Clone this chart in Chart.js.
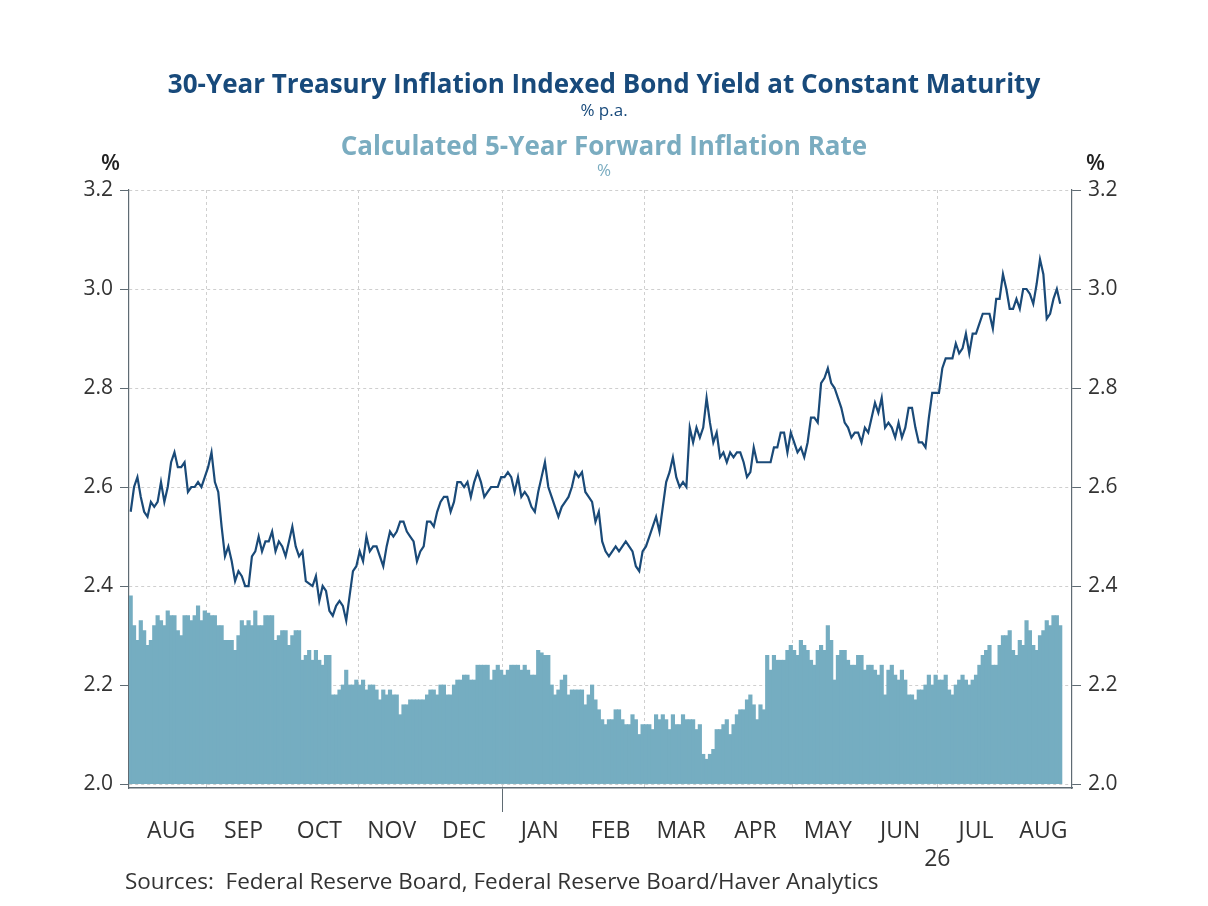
<!DOCTYPE html>
<html>
<head>
<meta charset="utf-8">
<script src="https://cdn.jsdelivr.net/npm/chart.js@4.4.1/dist/chart.umd.min.js"></script>
<style>
    html, body { margin: 0; padding: 0; background: #fff; }
    #wrap { position: relative; width: 1208px; height: 906px; overflow: hidden; font-family: "Open Sans", sans-serif; }
    #chart { position: absolute; left: 0; top: 0; }
    .txt { position: absolute; white-space: pre; line-height: 1; }
    .center { left: 0; width: 1208px; text-align: center; }
    .t1 { top: 70px; font-size: 26px; font-weight: 700; color: #184a7b; }
    .s1 { top: 101px; font-size: 17px; color: #184a7b; }
    .t2 { top: 132px; font-size: 26px; font-weight: 700; color: #7aacc0; }
    .s2 { top: 161px; font-size: 17px; color: #7aacc0; }
    .unit { top: 150px; font-size: 22px; font-weight: 600; color: #222; }
    .src { left: 125px; top: 870px; font-size: 22.5px; color: #333; }
</style>
</head>
<body>
<div id="wrap">
    <canvas id="chart" width="1208" height="906"></canvas>
    <div class="txt center t1">30-Year Treasury Inflation Indexed Bond Yield at Constant Maturity</div>
    <div class="txt center s1">% p.a.</div>
    <div class="txt center t2">Calculated 5-Year Forward Inflation Rate</div>
    <div class="txt center s2">%</div>
    <div class="txt unit" style="left:101px">%</div>
    <div class="txt unit" style="left:1086px">%</div>
    <div class="txt src">Sources:  Federal Reserve Board, Federal Reserve Board/Haver Analytics</div>
</div>
<script>
// Business days per month, Jul 2025 - Aug 2026
const monthNames = ['JUL', 'AUG', 'SEP', 'OCT', 'NOV', 'DEC', 'JAN', 'FEB', 'MAR', 'APR', 'MAY', 'JUN', 'JUL', 'AUG'];
const monthNums  = [7, 8, 9, 10, 11, 12, 1, 2, 3, 4, 5, 6, 7, 8];
const monthDays  = [2, 21, 22, 23, 20, 23, 22, 20, 22, 22, 21, 22, 23, 14];
const yearLabel = '26';

// 30-Year TIPS yield, % p.a. (line)
const tipsYield = [
    2.55, 2.60, 2.62, 2.58, 2.55, 2.54, 2.57, 2.56, 2.57, 2.61,
    2.57, 2.60, 2.65, 2.67, 2.64, 2.64, 2.65, 2.59, 2.60, 2.60,
    2.61, 2.60, 2.62, 2.64, 2.67, 2.61, 2.59, 2.52, 2.46, 2.48,
    2.45, 2.41, 2.43, 2.42, 2.40, 2.40, 2.46, 2.47, 2.50, 2.47,
    2.49, 2.49, 2.51, 2.47, 2.49, 2.48, 2.46, 2.49, 2.52, 2.48,
    2.46, 2.47, 2.41, 2.405, 2.40, 2.42, 2.37, 2.40, 2.39, 2.35,
    2.34, 2.36, 2.37, 2.36, 2.33, 2.38, 2.43, 2.44, 2.47, 2.45,
    2.50, 2.47, 2.48, 2.48, 2.46, 2.44, 2.48, 2.51, 2.50, 2.51,
    2.53, 2.53, 2.51, 2.50, 2.49, 2.45, 2.47, 2.48, 2.53, 2.53,
    2.52, 2.55, 2.57, 2.58, 2.58, 2.55, 2.57, 2.61, 2.61, 2.60,
    2.61, 2.58, 2.61, 2.63, 2.61, 2.58, 2.59, 2.60, 2.60, 2.60,
    2.62, 2.62, 2.63, 2.62, 2.59, 2.62, 2.58, 2.59, 2.58, 2.56,
    2.55, 2.59, 2.62, 2.65, 2.60, 2.58, 2.56, 2.54, 2.56, 2.57,
    2.58, 2.60, 2.63, 2.62, 2.63, 2.59, 2.58, 2.57, 2.53, 2.55,
    2.49, 2.47, 2.46, 2.47, 2.48, 2.47, 2.48, 2.49, 2.48, 2.47,
    2.44, 2.43, 2.47, 2.48, 2.50, 2.52, 2.54, 2.51, 2.56, 2.61,
    2.63, 2.66, 2.62, 2.60, 2.61, 2.60, 2.72, 2.69, 2.72, 2.70,
    2.72, 2.78, 2.73, 2.69, 2.71, 2.66, 2.67, 2.65, 2.67, 2.66,
    2.67, 2.67, 2.65, 2.62, 2.63, 2.68, 2.65, 2.65, 2.65, 2.65,
    2.65, 2.68, 2.68, 2.71, 2.71, 2.67, 2.71, 2.69, 2.67, 2.68,
    2.66, 2.69, 2.74, 2.74, 2.73, 2.81, 2.82, 2.84, 2.81, 2.80,
    2.78, 2.76, 2.73, 2.72, 2.70, 2.71, 2.71, 2.69, 2.72, 2.71,
    2.74, 2.77, 2.75, 2.78, 2.72, 2.73, 2.72, 2.70, 2.73, 2.70,
    2.72, 2.76, 2.76, 2.72, 2.69, 2.69, 2.68, 2.74, 2.79, 2.79,
    2.79, 2.84, 2.86, 2.86, 2.86, 2.89, 2.87, 2.88, 2.91, 2.87,
    2.91, 2.91, 2.93, 2.95, 2.95, 2.95, 2.92, 2.98, 2.98, 3.03,
    3.00, 2.96, 2.96, 2.98, 2.96, 3.00, 3.00, 2.99, 2.97, 3.01,
    3.06, 3.03, 2.94, 2.95, 2.98, 3.00, 2.97
];

// Calculated 5-year forward inflation rate, % (bars)
const fwdInflation = [
    2.38, 2.32, 2.29, 2.33, 2.31, 2.28, 2.29, 2.32, 2.34, 2.33,
    2.32, 2.35, 2.34, 2.34, 2.31, 2.30, 2.34, 2.34, 2.33, 2.34,
    2.36, 2.33, 2.35, 2.345, 2.34, 2.34, 2.32, 2.32, 2.29, 2.29,
    2.29, 2.27, 2.30, 2.33, 2.32, 2.33, 2.32, 2.35, 2.32, 2.32,
    2.34, 2.34, 2.34, 2.29, 2.30, 2.31, 2.31, 2.28, 2.30, 2.31,
    2.31, 2.25, 2.26, 2.27, 2.25, 2.27, 2.25, 2.24, 2.26, 2.26,
    2.18, 2.18, 2.19, 2.20, 2.23, 2.20, 2.20, 2.21, 2.20, 2.21,
    2.19, 2.20, 2.20, 2.19, 2.17, 2.19, 2.18, 2.19, 2.18, 2.18,
    2.14, 2.16, 2.16, 2.17, 2.17, 2.17, 2.17, 2.17, 2.18, 2.19,
    2.19, 2.18, 2.20, 2.20, 2.18, 2.18, 2.20, 2.21, 2.21, 2.22,
    2.22, 2.21, 2.21, 2.24, 2.24, 2.24, 2.24, 2.21, 2.23, 2.24,
    2.23, 2.22, 2.23, 2.24, 2.24, 2.24, 2.23, 2.24, 2.23, 2.22,
    2.22, 2.27, 2.265, 2.26, 2.26, 2.20, 2.18, 2.19, 2.21, 2.22,
    2.18, 2.19, 2.19, 2.19, 2.19, 2.16, 2.18, 2.20, 2.17, 2.15,
    2.13, 2.12, 2.13, 2.13, 2.15, 2.15, 2.13, 2.12, 2.12, 2.14,
    2.13, 2.10, 2.12, 2.12, 2.12, 2.11, 2.14, 2.13, 2.14, 2.13,
    2.11, 2.14, 2.12, 2.12, 2.14, 2.13, 2.13, 2.13, 2.11, 2.12,
    2.06, 2.05, 2.06, 2.07, 2.11, 2.11, 2.12, 2.13, 2.10, 2.12,
    2.14, 2.15, 2.15, 2.17, 2.18, 2.16, 2.13, 2.16, 2.15, 2.26,
    2.23, 2.26, 2.25, 2.25, 2.25, 2.27, 2.28, 2.27, 2.26, 2.29,
    2.28, 2.27, 2.25, 2.24, 2.27, 2.28, 2.27, 2.32, 2.29, 2.21,
    2.26, 2.27, 2.27, 2.25, 2.24, 2.24, 2.26, 2.26, 2.23, 2.24,
    2.24, 2.23, 2.22, 2.24, 2.18, 2.23, 2.24, 2.22, 2.21, 2.23,
    2.21, 2.18, 2.18, 2.17, 2.19, 2.19, 2.20, 2.22, 2.20, 2.22,
    2.21, 2.21, 2.22, 2.19, 2.18, 2.20, 2.21, 2.22, 2.21, 2.20,
    2.21, 2.22, 2.24, 2.26, 2.27, 2.28, 2.24, 2.24, 2.28, 2.30,
    2.30, 2.31, 2.27, 2.26, 2.29, 2.28, 2.33, 2.31, 2.28, 2.27,
    2.30, 2.31, 2.33, 2.32, 2.34, 2.34, 2.32
];

const yTicks = [2.0, 2.2, 2.4, 2.6, 2.8, 3.0, 3.2];

// axis range: one slot per business day, a few empty slots at the right
const xMin = -0.5;
const xMax = 279.5;
const yMin = 1.992;
const yMax = 3.2;

// x positions are business-day numbers
const dayIndex = [];
for (let i = 0; i < tipsYield.length; i++) dayIndex.push(i);

// month labels, every-other-month grid lines, year tick
const xTicks = [];
let start = 0;
monthNames.forEach((name, m) => {
    const n = monthDays[m];
    const left = start - 0.5;
    const right = (m === monthNames.length - 1) ? xMax : left + n;
    if (m > 0 && monthNums[m] % 2 === 1) {
        xTicks.push({
            value: left,
            label: (m === 12) ? ['', yearLabel] : '',
            grid: true,
            mark: monthNums[m] === 1
        });
    }
    if (n > 5) {
        xTicks.push({ value: (left + right) / 2, label: name, grid: false, mark: false });
    }
    start += n;
});
xTicks.sort((a, b) => a.value - b.value);

const gridColor = '#cfcfcf';
const axisColor = '#5f6b73';
const tickFont = { family: 'Open Sans', size: 21 };

function yAxis(pos, width) {
    return {
        type: 'linear',
        position: pos,
        min: yMin,
        max: yMax,
        afterBuildTicks: function (scale) {
            scale.ticks = yTicks.map(v => ({ value: v }));
        },
        afterFit: function (scale) { scale.width = width; },
        ticks: {
            color: '#333',
            font: tickFont,
            padding: 7,
            callback: function (v) { return v.toFixed(1); }
        },
        grid: {
            display: true,
            drawOnChartArea: pos === 'left',
            color: gridColor,
            lineWidth: 1,
            tickColor: axisColor,
            tickLength: 9,
            tickWidth: 1
        },
        border: { display: true, color: axisColor, width: 1.2, dash: [3, 3] }
    };
}

const ctx = document.getElementById('chart');
new Chart(ctx, {
    type: 'bar',
    data: {
        labels: dayIndex,
        datasets: [
            {
                type: 'line',
                label: '30-Year TIPS Yield',
                data: tipsYield,
                borderColor: '#1a4a78',
                borderWidth: 2.2,
                pointRadius: 0,
                tension: 0,
                fill: false,
                order: 0,
                yAxisID: 'y'
            },
            {
                type: 'bar',
                label: 'Calculated 5-Year Forward Inflation Rate',
                data: fwdInflation,
                backgroundColor: '#75adc1',
                borderWidth: 0,
                barPercentage: 1,
                categoryPercentage: 1,
                inflateAmount: 0.4,
                base: 2.0,
                order: 1,
                yAxisID: 'y'
            }
        ]
    },
    options: {
        responsive: false,
        animation: false,
        devicePixelRatio: 1,
        layout: { padding: { top: 190, left: 0, right: 0, bottom: 0 } },
        plugins: {
            legend: { display: false },
            tooltip: { enabled: false }
        },
        scales: {
            x: {
                type: 'linear',
                position: 'bottom',
                min: xMin,
                max: xMax,
                offset: false,
                afterBuildTicks: function (scale) {
                    scale.ticks = xTicks.map(t => ({ value: t.value }));
                },
                afterFit: function (scale) { scale.height = 118; },
                ticks: {
                    autoSkip: false,
                    maxRotation: 0,
                    color: '#333',
                    font: { family: 'Open Sans', size: 23 },
                    padding: 6,
                    callback: function (v, i) { return xTicks[i] ? xTicks[i].label : ''; }
                },
                grid: {
                    offset: false,
                    drawOnChartArea: true,
                    color: c => (xTicks[c.index] && xTicks[c.index].grid) ? gridColor : 'rgba(0,0,0,0)',
                    tickColor: c => (xTicks[c.index] && xTicks[c.index].mark) ? axisColor : 'rgba(0,0,0,0)',
                    tickLength: 24,
                    lineWidth: 1
                },
                border: { display: true, color: axisColor, width: 1.5, dash: [3, 3] }
            },
            y: yAxis('left', 129),
            y2: yAxis('right', 136)
        }
    }
});
</script>
</body>
</html>
